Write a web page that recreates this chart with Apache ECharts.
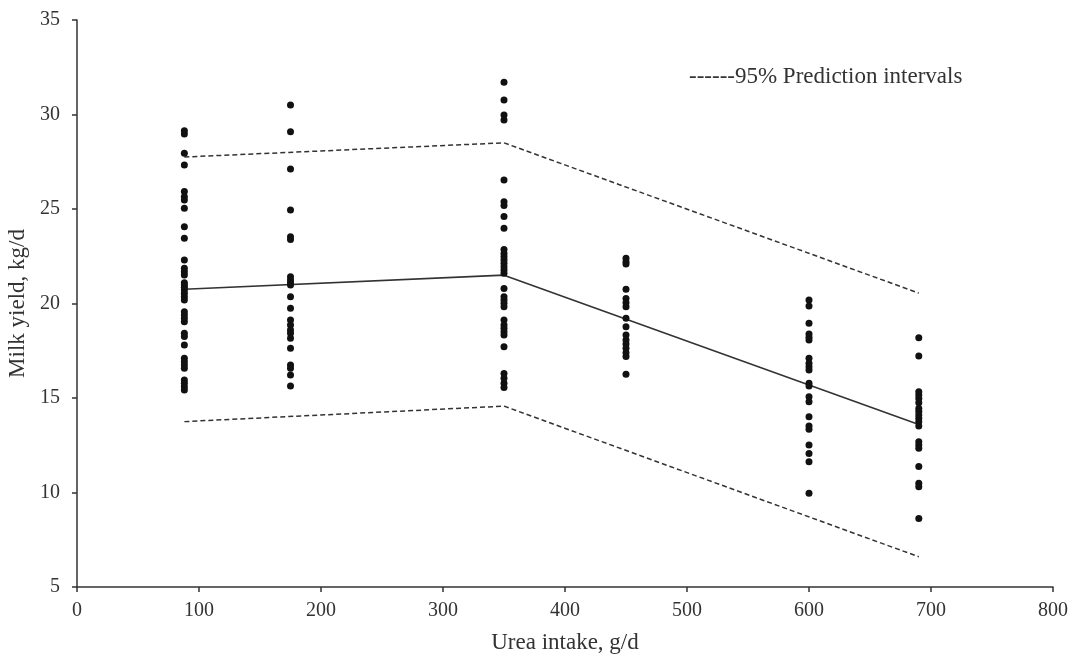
<!DOCTYPE html>
<html>
<head>
<meta charset="utf-8">
<script src="https://cdn.jsdelivr.net/npm/echarts@6/dist/echarts.min.js"></script>
<style>
  html, body { margin: 0; padding: 0; background: #fff; }
  #chart { width: 1071px; height: 656px; }
</style>
</head>
<body>
<div id="chart"></div>
<script>
// urea intake levels (g/d) and observed milk yields (kg/d) at each level
const intakeLevels = [88, 175, 350, 450, 600, 690]
const yields88 = [29.14, 28.97, 27.95, 27.33, 25.92, 25.65, 25.48, 25.04, 24.06, 23.45, 22.30, 21.86, 21.68, 21.51, 21.10, 20.98, 20.86, 20.71, 20.54, 20.36, 20.19, 19.57, 19.39, 19.22, 19.04, 18.42, 18.25, 17.80, 17.10, 16.92, 16.75, 16.57, 15.95, 15.78, 15.60, 15.42]
const yields175 = [30.50, 29.09, 27.12, 24.95, 23.53, 23.39, 21.42, 21.24, 21.10, 20.98, 20.36, 19.75, 19.13, 18.86, 18.60, 18.42, 18.16, 17.63, 16.75, 16.57, 16.22, 15.63]
const yields350 = [31.70, 30.77, 29.97, 29.71, 26.53, 25.39, 25.18, 24.60, 23.98, 22.86, 22.65, 22.48, 22.30, 22.13, 21.95, 21.77, 21.60, 20.80, 20.36, 20.19, 20.01, 19.83, 19.13, 18.86, 18.69, 18.51, 18.33, 17.71, 16.30, 16.04, 15.78, 15.55]
const yields450 = [22.39, 22.21, 22.09, 20.75, 20.27, 20.04, 19.83, 19.22, 18.77, 18.33, 18.07, 17.86, 17.63, 17.40, 17.19, 16.26]
const yields600 = [20.19, 19.87, 18.95, 18.39, 18.21, 18.07, 17.10, 16.84, 16.66, 16.48, 15.78, 15.63, 15.07, 14.80, 14.01, 13.52, 13.34, 12.51, 12.07, 11.63, 9.96]
const yields690 = [18.19, 17.22, 15.33, 15.16, 14.98, 14.75, 14.45, 14.28, 14.10, 13.93, 13.75, 13.52, 12.69, 12.51, 12.34, 11.37, 10.49, 10.31, 8.63]
const yieldGroups = [yields88, yields175, yields350, yields450, yields600, yields690]

// fitted line and 95% prediction interval (break points)
const fitX = [88, 350, 690]
const fitY = [20.75, 21.5, 13.6]
const upperY = [27.75, 28.5, 20.55]
const lowerY = [13.75, 14.57, 6.6]

const xTicks = [0, 100, 200, 300, 400, 500, 600, 700, 800]
const yTicks = [5, 10, 15, 20, 25, 30, 35]

const FONT = '"Liberation Serif", "Times New Roman", serif'
const INK = '#333333'

const points = []
intakeLevels.forEach((x, i) => {
  yieldGroups[i].forEach((y) => points.push([x, y]))
})
const pair = (xs, ys) => xs.map((x, i) => [x, ys[i]])

const myChart = echarts.init(document.getElementById('chart'))
const option = {
  animation: false,
  backgroundColor: '#fff',
  grid: { left: 77, right: 18, top: 20, bottom: 69, outerBoundsMode: 'none', containLabel: false },
  // the legend in the source is plain text with hyphens in front
  legend: {
    data: ['95% Prediction intervals'],
    left: 684,
    top: 60,
    icon: 'rect',
    itemWidth: 0,
    itemHeight: 0,
    itemGap: 0,
    formatter: (name) => '------' + name,
    textStyle: { fontFamily: FONT, fontSize: 23, color: INK, padding: [0, 0, 0, -5] }
  },
  xAxis: {
    type: 'value',
    min: xTicks[0],
    max: xTicks[xTicks.length - 1],
    interval: 100,
    name: 'Urea intake, g/d',
    nameLocation: 'middle',
    nameGap: 44,
    nameTextStyle: { fontFamily: FONT, fontSize: 23, color: INK },
    axisLine: { lineStyle: { color: INK, width: 1.5 } },
    axisTick: { show: true, length: 5, lineStyle: { color: INK, width: 1.5 } },
    axisLabel: { fontFamily: FONT, fontSize: 20, color: INK, margin: 14 },
    splitLine: { show: false }
  },
  yAxis: {
    type: 'value',
    min: yTicks[0],
    max: yTicks[yTicks.length - 1],
    interval: 5,
    name: 'Milk yield, kg/d',
    nameLocation: 'middle',
    nameGap: 42,
    nameTextStyle: { fontFamily: FONT, fontSize: 23, color: INK },
    axisLine: { show: true, lineStyle: { color: INK, width: 1.5 } },
    axisTick: { show: true, length: 5, lineStyle: { color: INK, width: 1.5 } },
    axisLabel: { fontFamily: FONT, fontSize: 20, color: INK, margin: 17 },
    splitLine: { show: false }
  },
  series: [
    {
      name: 'observed',
      type: 'scatter',
      data: points,
      symbol: 'circle',
      symbolSize: 7,
      itemStyle: { color: '#111111', opacity: 1 },
      z: 3
    },
    {
      name: 'fit',
      type: 'line',
      data: pair(fitX, fitY),
      symbol: 'none',
      lineStyle: { color: INK, width: 1.6 },
      z: 2
    },
    {
      name: '95% Prediction intervals',
      type: 'line',
      data: pair(fitX, upperY),
      symbol: 'none',
      lineStyle: { color: INK, width: 1.5, type: [5, 3] },
      itemStyle: { color: INK },
      z: 2
    },
    {
      name: 'lower',
      type: 'line',
      data: pair(fitX, lowerY),
      symbol: 'none',
      lineStyle: { color: INK, width: 1.5, type: [5, 3] },
      z: 2
    }
  ]
}
myChart.setOption(option)
</script>
</body>
</html>
